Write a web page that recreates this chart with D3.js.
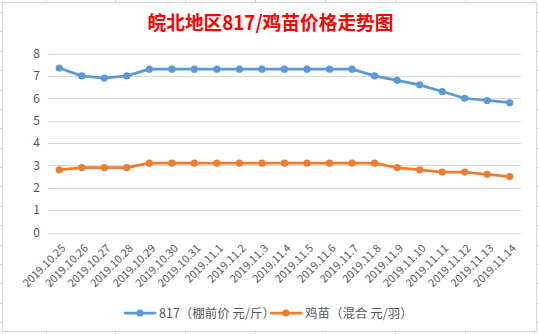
<!DOCTYPE html>
<html><head><meta charset="utf-8">
<script src="https://cdn.jsdelivr.net/npm/d3@7"></script>
<style>html,body{margin:0;padding:0;background:#fff;}svg{display:block;}</style>
</head><body><svg id="c" width="539" height="334"></svg>
<script>
const categories = ["2019.10.25","2019.10.26","2019.10.27","2019.10.28","2019.10.29","2019.10.30","2019.10.31","2019.11.1","2019.11.2","2019.11.3","2019.11.4","2019.11.5","2019.11.6","2019.11.7","2019.11.8","2019.11.9","2019.11.10","2019.11.11","2019.11.12","2019.11.13","2019.11.14"];
const price817 = [7.35,7.0,6.9,7.0,7.3,7.3,7.3,7.3,7.3,7.3,7.3,7.3,7.3,7.3,7.0,6.8,6.6,6.3,6.0,5.9,5.8];
const chickPrice = [2.8,2.9,2.9,2.9,3.1,3.1,3.1,3.1,3.1,3.1,3.1,3.1,3.1,3.1,3.1,2.9,2.8,2.7,2.7,2.6,2.5];
const yTicks = [0,1,2,3,4,5,6,7,8];
const seriesNames = ["817（棚前价 元/斤）","鸡苗（混合 元/羽）"];
const titleText = "皖北地区817/鸡苗价格走势图";

const svg = d3.select("#c");
const font = "'Microsoft YaHei','Noto Sans CJK SC',sans-serif";
const gray = "#595959";
const colors = ["#5b9bd5","#ed7d31"];

// spreadsheet background grid
const sheet = svg.append("g").attr("stroke","#d4d4d4").attr("stroke-width",1);
d3.range(0,12).forEach(i=>{ const x = 45.5 + i*69.85; sheet.append("line").attr("x1",Math.round(x)+0.5).attr("x2",Math.round(x)+0.5).attr("y1",0).attr("y2",334); });
d3.range(0,18).forEach(i=>{ const y = 12 + i*19.375; sheet.append("line").attr("x1",0).attr("x2",539).attr("y1",Math.round(y)+0.5).attr("y2",Math.round(y)+0.5); });
// chart frame
svg.append("rect").attr("x",2.5).attr("y",2.5).attr("width",534).attr("height",329)
  .attr("fill","#fff").attr("stroke","#d9d9d9").attr("stroke-width",1);

const x = d3.scaleBand().domain(categories).range([48,521]).padding(0);
const y = d3.scaleLinear().domain([0,8]).range([232.5,53.5]);

// gridlines
svg.append("g").selectAll("line").data(yTicks).join("line")
  .attr("x1",48).attr("x2",521)
  .attr("y1",d=>Math.round(y(d))+0.5).attr("y2",d=>Math.round(y(d))+0.5)
  .attr("stroke","#d9d9d9").attr("stroke-width",1);

// y axis labels
const yAxis = d3.axisLeft(y).tickValues(yTicks).tickSize(0).tickPadding(8).tickFormat(d3.format("d"));
const gy = svg.append("g").attr("transform","translate(48,0)").call(yAxis);
gy.select(".domain").remove();
gy.selectAll("text").attr("fill",gray).style("font-family",font).style("font-size","12px");

// x axis labels
const xAxis = d3.axisBottom(x).tickSize(0).tickPadding(0);
const gx = svg.append("g").attr("transform","translate(0,233)").call(xAxis);
gx.select(".domain").remove();
gx.selectAll("text")
  .attr("fill",gray).style("font-family",font).style("font-size","11px")
  .attr("text-anchor","end").attr("dy",null).attr("y",null)
  .attr("transform","translate(7,16) rotate(-45)");

// series
const cx = d => x(d) + x.bandwidth()/2;
[price817, chickPrice].forEach((vals,si)=>{
  const data = categories.map((c,i)=>({c, v: vals[i]}));
  const line = d3.line().x(d=>cx(d.c)).y(d=>y(d.v));
  svg.append("path").datum(data).attr("d",line)
    .attr("fill","none").attr("stroke",colors[si]).attr("stroke-width",2.75).attr("stroke-linejoin","round").attr("stroke-linecap","round");
  svg.append("g").selectAll("circle").data(data).join("circle")
    .attr("cx",d=>cx(d.c)).attr("cy",d=>y(d.v)).attr("r",3.6).attr("fill",colors[si]);
});

// title
svg.append("text").attr("x",270.5).attr("y",30).attr("text-anchor","middle")
  .attr("fill","#ff0000").style("font-family",font).style("font-size","19.5px").style("font-weight","bold")
  .attr("textLength",246).attr("lengthAdjust","spacingAndGlyphs")
  .text(titleText);

// legend
const legX = [125, 271];
seriesNames.forEach((n,i)=>{
  const g = svg.append("g").attr("transform",`translate(${legX[i]},313)`);
  g.append("line").attr("x1",0).attr("x2",30).attr("y1",0).attr("y2",0).attr("stroke",colors[i]).attr("stroke-width",2.75).attr("stroke-linecap","round");
  g.append("circle").attr("cx",15).attr("cy",0).attr("r",3.6).attr("fill",colors[i]);
  g.append("text").attr("x",34).attr("y",4.5).attr("fill",gray).style("font-family",font).style("font-size","12.5px").text(n);
});
</script></body></html>
